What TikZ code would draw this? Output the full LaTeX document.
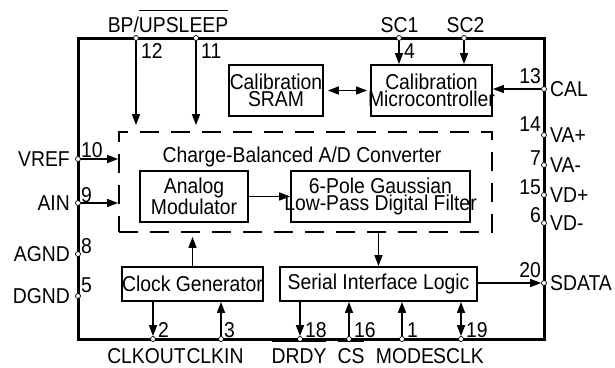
\documentclass[tikz,border=0pt]{standalone}
\usepackage{fontspec}
\setmainfont{Liberation Sans}[FakeStretch=0.9]
\usetikzlibrary{arrows.meta, positioning, calc}

\newcommand{\barred}[1]{\setbox0\hbox{#1}\rlap{\rule[21pt]{\wd0}{1.4pt}}\box0}

\begin{document}
\begin{tikzpicture}[x=1pt, y=-1pt,
    every node/.style={font=\fontsize{21.5}{17}\selectfont, inner sep=0pt},
    blk/.style={draw, line width=1.8pt, align=center, inner xsep=-8pt},
    pin/.style={circle, draw, fill=white, line width=0.7pt, minimum size=5pt},
    sig/.style={line width=1.6pt, -{Triangle[length=11pt,width=8pt]}},
    bisig/.style={line width=1.6pt, {Triangle[length=11pt,width=8pt]}-{Triangle[length=11pt,width=8pt]}}]
\useasboundingbox (0,0) rectangle (615,367);

% package outline and pins
\node[draw, line width=3pt, minimum width=466pt, minimum height=301pt] (chip) at (311,188.5) {};
\foreach \n/\x in {12/136, 11/196, 4/399}{
    \node[pin] (p\n) at (\x,38) {};
    \node[anchor=base west] (n\n) at (\x+5,58) {\n};
}
\node[pin] (psc2) at (464,38) {};
\foreach \n/\x/\d in {2/153/5, 3/221/3, 18/300/5, 16/349/5, 1/402/5, 19/461/5}{
    \node[pin] (p\n) at (\x,339) {};
    \node[anchor=base west] (n\n) at (\x+\d,337) {\n};
}
\foreach \n/\y/\d in {10/159/2, 9/203/1, 8/254/1, 5/296/4}{
    \node[pin] (p\n) at (78,\y) {};
    \node[anchor=base west] (n\n) at (81,\y-\d) {\n};
}
\foreach \n/\y/\d in {13/89/6, 14/135/4, 7/165/0, 15/195/1, 6/223/1, 20/283/6}{
    \node[pin] (p\n) at (544,\y) {};
    \node[anchor=base east] (n\n) at (541,\y-\d) {\n};
}

% signal names
\node[anchor=base] (bpup) at (168,32) {BP/\barred{UPSLEEP}};
\node[anchor=base] (sc1) at (399.5,32) {SC1};
\node[anchor=base] (sc2) at (465.5,32) {SC2};
\foreach \n/\t in {10/VREF, 9/AIN, 8/AGND, 5/DGND}
    \node[anchor=east] (l\n) at ([xshift=-8pt]p\n.center) {\t};
\foreach \n/\t in {13/CAL, 14/VA+, 7/VA-, 15/VD+, 6/VD-, 20/SDATA}
    \node[anchor=west] (l\n) at ([xshift=6pt]p\n.center) {\t};
\foreach \n/\x/\t in {2/146.5/CLKOUT, 3/215/CLKIN, 18/299/\barred{DRDY}, 16/351/\barred{CS}, 1/405/MODE, 19/458.5/SCLK}
    \node[anchor=base] (l\n) at (\x,363) {\t};

% blocks
\node[blk, minimum width=94pt, minimum height=51pt] (sram) at (276,90.5) {Calibration\\SRAM};
\node[blk, minimum width=121pt, minimum height=51pt] (mcu) at (431.5,90.5) {Calibration\\Microcontroller};
\node[draw, line width=1.8pt, dash pattern=on 19pt off 12pt, minimum width=373pt, minimum height=100pt] (adc) at (305.5,182) {};
\node[anchor=base] (adcname) at (302,162) {Charge-Balanced A/D Converter};
\node[blk, minimum width=108pt, minimum height=51pt] (mod) at (194,196.5) {Analog\\Modulator};
\node[blk, minimum width=179pt, minimum height=51pt] (filt) at (380.5,196.5) {6-Pole Gaussian\\Low-Pass Digital Filter};
\node[blk, minimum width=141pt, minimum height=34pt] (clk) at (192.5,284) {Clock Generator};
\node[blk, minimum width=197pt, minimum height=34pt] (sil) at (378.5,284) {Serial Interface Logic};

% connections
\draw[sig, shorten >=6pt] (p12) -- (p12 |- adc.north);
\draw[sig, shorten >=6pt] (p11) -- (p11 |- adc.north);
\draw[sig] (p4) -- (p4 |- mcu.north);
\draw[sig] (psc2) -- (psc2 |- mcu.north);
\draw[sig] (p13) -- (p13 -| mcu.east);
\draw[bisig, shorten <=4pt, shorten >=3pt] (sram.east) -- (mcu.west);
\draw[sig] (p10) -- (p10 -| adc.west);
\draw[sig] (p9) -- (p9 -| adc.west);
\draw[sig] (mod) -- (filt);
\draw[sig, shorten >=4pt] (clk) -- (clk |- adc.south);
\draw[sig] (sil |- adc.south) -- (sil);
\draw[sig] (sil.east |- p20) -- (p20);
\draw[sig] (p2 |- clk.south) -- (p2);
\draw[sig] (p3) -- (p3 |- clk.south);
\draw[sig] (p18 |- sil.south) -- (p18);
\draw[sig] (p16) -- (p16 |- sil.south);
\draw[sig] (p1) -- (p1 |- sil.south);
\draw[bisig] (p19) -- (p19 |- sil.south);
\end{tikzpicture}
\end{document}
